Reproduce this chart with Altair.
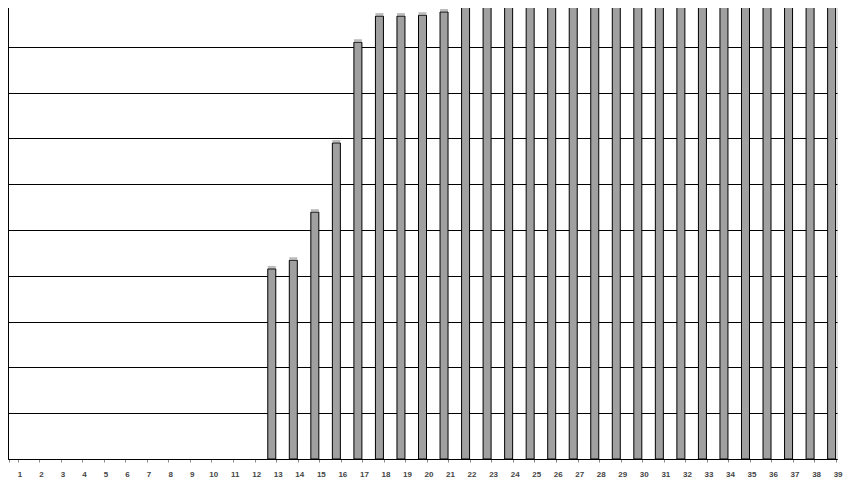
import altair as alt
import pandas as pd

categories = [str(i) for i in range(1, 40)]
values = [0] * 12 + [4.15, 4.34, 5.39, 6.90, 9.10, 9.67, 9.67, 9.69, 9.76] + [10] * 18
grid_values = [0, 1, 2, 3, 4, 5, 6, 7, 8, 9]

df = pd.DataFrame({"cat": categories, "value": values})

x_scale = alt.Scale(domain=categories, paddingInner=0.6, paddingOuter=0.05)

x_enc = alt.X(
    "cat:O",
    sort=categories,
    scale=x_scale,
    axis=alt.Axis(
        title=None,
        labelAngle=0,
        labelFontSize=8,
        labelFontWeight="bold",
        labelColor="#444444",
        labelFont="Liberation Sans",
        labelOffset=6,
        labelBaseline="top",
        labelPadding=8,
        labelBound=False,
        labelOverlap=False,
        tickBand="extent",
        tickSize=3,
        tickColor="#888888",
        domainColor="#000000",
        grid=False,
    ),
)

y_enc = alt.Y(
    "value:Q",
    scale=alt.Scale(domain=[0, 10], nice=False),
    axis=alt.Axis(
        title=None,
        labels=False,
        ticks=False,
        values=grid_values,
        grid=True,
        gridColor="#000000",
        gridOpacity=1,
        gridWidth=1,
        domainColor="#000000",
    ),
)

bars = (
    alt.Chart(df)
    .transform_filter("datum.value > 0")
    .mark_bar(fill="#a0a0a0", stroke="#000000", strokeWidth=1, size=8, clip=True)
    .encode(x=x_enc, y=y_enc)
)

caps = (
    alt.Chart(df)
    .transform_filter("datum.value > 0 && datum.value < 10")
    .mark_tick(color="#a0a0a0", thickness=2, size=8, yOffset=-2, orient="horizontal")
    .encode(x=alt.X("cat:O", sort=categories, scale=x_scale), y=alt.Y("value:Q"))
)

chart = (
    alt.layer(bars, caps)
    .properties(
        width=829,
        height=458,
        autosize=alt.AutoSizeParams(type="none"),
        padding={"left": 0, "top": -7, "right": 8, "bottom": 19},
    )
    .configure_view(stroke="#808080", strokeWidth=1)
    .configure(background="#ffffff")
)

chart.save("out.html", embed_options={"renderer": "svg", "actions": False})
